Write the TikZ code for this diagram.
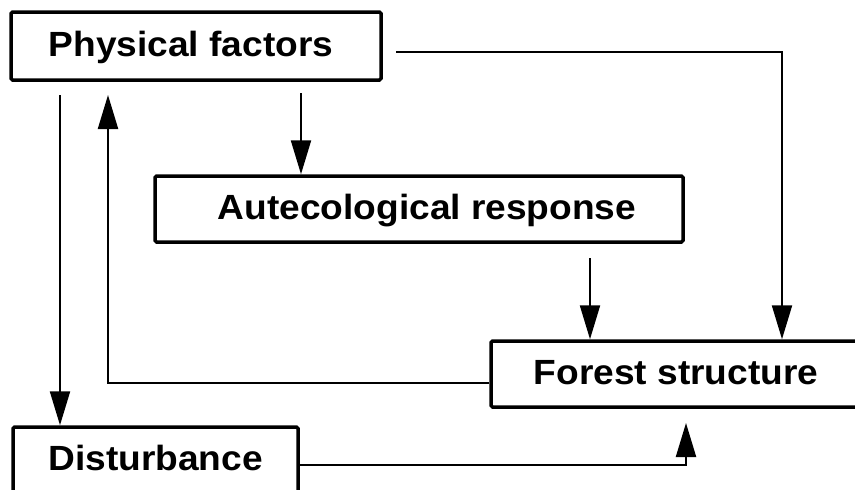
\documentclass[tikz,border=0pt]{standalone}
\usepackage{fontspec}
\newfontfamily\lblfont{Liberation Sans}[FakeStretch=1.06]
\usetikzlibrary{arrows.meta}
\tikzset{
  box/.style={draw=black, line width=3.5pt, rounded corners=1.5pt, rectangle, inner sep=0pt,
    font=\lblfont\bfseries\fontsize{35}{40}\selectfont, text height=25pt, text depth=5pt},
  arr/.style={draw=black, line width=2.2pt, -{Triangle[length=34pt,width=20pt]}},
  link/.style={draw=black, line width=2.2pt}
}
\begin{document}
\begin{tikzpicture}[x=1pt,y=-1pt]
\useasboundingbox (0,0) rectangle (855,490);
\clip (0,0) rectangle (855,490);
\fill[white] (0,0) rectangle (855,490);
% boxes
\node[box, minimum width=370pt, minimum height=68pt] (PF) at (196,46) {\hspace*{-10pt}Physical factors};
\node[box, minimum width=528pt, minimum height=66pt] (AR) at (419,209) {\hspace*{16pt}Autecological response};
\node[box, minimum width=370pt, minimum height=66pt] (FS) at (676,374) {Forest structure};
\node[box, minimum width=285pt, minimum height=66pt] (DI) at (155.5,460) {Disturbance};
% helper coordinates (free ends)
\coordinate (pfR) at (396,52);
\coordinate (pfA) at (301,93);
\coordinate (arF) at (590,258);
\coordinate (fsP) at (108,95);
\coordinate (pfD) at (60,95);
\coordinate (diF) at (686,423);
\coordinate (fsX) at (782,0);
% connectors
\draw[arr] (pfR) -| (fsX |- FS.north);
\draw[arr] (pfA) -- (pfA |- AR.north);
\draw[arr] (arF) -- (arF |- FS.north);
\draw[arr] ([yshift=-9pt]FS.west) -| (fsP);
\draw[arr] (pfD) -- (pfD |- DI.north);
\draw[arr] ([yshift=-5pt]DI.east) -| (diF);
\end{tikzpicture}
\end{document}
